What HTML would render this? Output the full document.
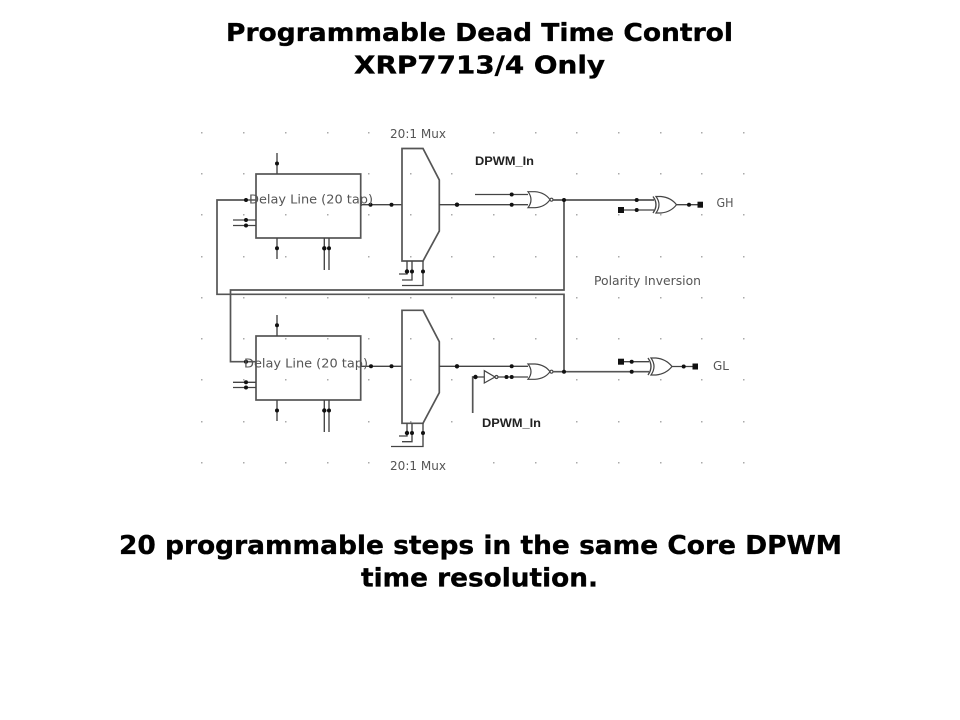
<!DOCTYPE html>
<html>
<head>
<meta charset="utf-8">
<style>
html,body{margin:0;padding:0;background:#fff;width:960px;height:720px;overflow:hidden}
svg{display:block}
.t{font-family:"DejaVu Sans","Liberation Sans",sans-serif;font-weight:700;fill:#000;stroke:#000;stroke-width:.35;font-size:24.5px}
.b{font-family:"DejaVu Sans","Liberation Sans",sans-serif;font-weight:700;fill:#000;stroke:#000;stroke-width:.35;font-size:26px}
.m{font-family:"DejaVu Sans","Liberation Sans",sans-serif;fill:#555;font-size:12.5px}
.d{font-family:"Liberation Sans",Arial,sans-serif;font-weight:700;fill:#222;font-size:12px}
.w{fill:none;stroke:#444;stroke-width:1.35}
.h{fill:none;stroke:#555;stroke-width:1.7}
.g{fill:#fff;stroke:#444;stroke-width:1.2}
</style>
</head>
<body>
<svg width="960" height="720" viewBox="0 0 960 720" xmlns="http://www.w3.org/2000/svg">
<rect width="960" height="720" fill="#fff"/>
<text class="t" x="226" y="41" textLength="507" lengthAdjust="spacingAndGlyphs">Programmable Dead Time Control</text>
<text class="t" x="354" y="73.5" textLength="251" lengthAdjust="spacingAndGlyphs">XRP7713/4 Only</text>
<text class="b" x="119" y="554" textLength="723" lengthAdjust="spacingAndGlyphs">20 programmable steps in the same Core DPWM</text>
<text class="b" x="361" y="586.5" textLength="237" lengthAdjust="spacingAndGlyphs">time resolution.</text>

<!-- grid dots -->
<g fill="#aaa">
<path d="M201 132h1.5v1.5h-1.5zM243 132h1.5v1.5h-1.5zM285 132h1.5v1.5h-1.5zM327 132h1.5v1.5h-1.5zM368 132h1.5v1.5h-1.5zM493 132h1.5v1.5h-1.5zM535 132h1.5v1.5h-1.5zM576 132h1.5v1.5h-1.5zM618 132h1.5v1.5h-1.5zM660 132h1.5v1.5h-1.5zM701 132h1.5v1.5h-1.5zM743 132h1.5v1.5h-1.5z"/>
<path d="M201 173h1.5v1.5h-1.5zM243 173h1.5v1.5h-1.5zM368 173h1.5v1.5h-1.5zM410 173h1.5v1.5h-1.5zM451 173h1.5v1.5h-1.5zM576 173h1.5v1.5h-1.5zM618 173h1.5v1.5h-1.5zM660 173h1.5v1.5h-1.5zM701 173h1.5v1.5h-1.5zM743 173h1.5v1.5h-1.5z"/>
<path d="M201 214h1.5v1.5h-1.5zM243 214h1.5v1.5h-1.5zM285 214h1.5v1.5h-1.5zM327 214h1.5v1.5h-1.5zM368 214h1.5v1.5h-1.5zM410 214h1.5v1.5h-1.5zM451 214h1.5v1.5h-1.5zM493 214h1.5v1.5h-1.5zM535 214h1.5v1.5h-1.5zM576 214h1.5v1.5h-1.5zM618 214h1.5v1.5h-1.5zM660 214h1.5v1.5h-1.5zM701 214h1.5v1.5h-1.5zM743 214h1.5v1.5h-1.5z"/>
<path d="M201 256h1.5v1.5h-1.5zM243 256h1.5v1.5h-1.5zM285 256h1.5v1.5h-1.5zM368 256h1.5v1.5h-1.5zM410 256h1.5v1.5h-1.5zM451 256h1.5v1.5h-1.5zM493 256h1.5v1.5h-1.5zM535 256h1.5v1.5h-1.5zM576 256h1.5v1.5h-1.5zM618 256h1.5v1.5h-1.5zM660 256h1.5v1.5h-1.5zM701 256h1.5v1.5h-1.5zM743 256h1.5v1.5h-1.5z"/>
<path d="M201 297h1.5v1.5h-1.5zM243 297h1.5v1.5h-1.5zM285 297h1.5v1.5h-1.5zM327 297h1.5v1.5h-1.5zM368 297h1.5v1.5h-1.5zM410 297h1.5v1.5h-1.5zM451 297h1.5v1.5h-1.5zM493 297h1.5v1.5h-1.5zM535 297h1.5v1.5h-1.5zM576 297h1.5v1.5h-1.5zM618 297h1.5v1.5h-1.5zM660 297h1.5v1.5h-1.5zM701 297h1.5v1.5h-1.5zM743 297h1.5v1.5h-1.5z"/>
<path d="M201 338h1.5v1.5h-1.5zM243 338h1.5v1.5h-1.5zM285 338h1.5v1.5h-1.5zM327 338h1.5v1.5h-1.5zM368 338h1.5v1.5h-1.5zM410 338h1.5v1.5h-1.5zM451 338h1.5v1.5h-1.5zM493 338h1.5v1.5h-1.5zM535 338h1.5v1.5h-1.5zM576 338h1.5v1.5h-1.5zM618 338h1.5v1.5h-1.5zM660 338h1.5v1.5h-1.5zM701 338h1.5v1.5h-1.5zM743 338h1.5v1.5h-1.5z"/>
<path d="M201 379h1.5v1.5h-1.5zM243 379h1.5v1.5h-1.5zM285 379h1.5v1.5h-1.5zM327 379h1.5v1.5h-1.5zM368 379h1.5v1.5h-1.5zM410 379h1.5v1.5h-1.5zM451 379h1.5v1.5h-1.5zM576 379h1.5v1.5h-1.5zM618 379h1.5v1.5h-1.5zM660 379h1.5v1.5h-1.5zM701 379h1.5v1.5h-1.5zM743 379h1.5v1.5h-1.5z"/>
<path d="M201 421h1.5v1.5h-1.5zM243 421h1.5v1.5h-1.5zM285 421h1.5v1.5h-1.5zM368 421h1.5v1.5h-1.5zM410 421h1.5v1.5h-1.5zM451 421h1.5v1.5h-1.5zM493 421h1.5v1.5h-1.5zM535 421h1.5v1.5h-1.5zM576 421h1.5v1.5h-1.5zM618 421h1.5v1.5h-1.5zM660 421h1.5v1.5h-1.5zM701 421h1.5v1.5h-1.5zM743 421h1.5v1.5h-1.5z"/>
<path d="M201 462h1.5v1.5h-1.5zM243 462h1.5v1.5h-1.5zM285 462h1.5v1.5h-1.5zM327 462h1.5v1.5h-1.5zM368 462h1.5v1.5h-1.5zM493 462h1.5v1.5h-1.5zM535 462h1.5v1.5h-1.5zM576 462h1.5v1.5h-1.5zM618 462h1.5v1.5h-1.5zM660 462h1.5v1.5h-1.5zM701 462h1.5v1.5h-1.5zM743 462h1.5v1.5h-1.5z"/>
</g>

<!-- feedback wires -->
<path class="h" d="M246 200H217V294.3H564V371.7"/>
<path class="h" d="M564 200V290H230.5V361.7H256"/>
<path class="w" d="M246 200H256"/>

<!-- top block -->
<rect class="h" x="256" y="174" width="104.7" height="64" fill="none"/>
<path class="w" d="M277 153V174M233 220H256M233 225.5H256M277 238V259M324.3 238V270M329 238V270M361 204.7H402"/>
<path class="h" d="M402 148.5H423L439.3 180V231L423 261H402Z"/>
<path class="w" d="M407 261V274H399M412 261V280H402M423 261V285.5H402"/>
<path class="w" d="M439.3 204.7H528M475 194.5H528"/>
<path class="g" d="M528 191.7Q534 199.7 528 207.7H535Q545 207 550 199.7Q545 192.5 535 191.7Z"/>
<circle class="g" cx="551.5" cy="199.7" r="1.5"/>
<path class="h" d="M553 200H654"/>
<path class="w" d="M622 210H654M676.5 204.7H700"/>
<path class="g" d="M656 196.5Q662 204.7 656 213H661Q671 212 676.5 204.7Q671 197.5 661 196.5Z"/>
<path class="w" d="M653 196.5Q659 204.7 653 213"/>

<!-- bottom block -->
<rect class="h" x="256" y="336" width="104.7" height="64" fill="none"/>
<path class="w" d="M277 315V336M233 382.3H256M233 387.5H256M277 400V421M324.3 400V432M329 400V432M361 366.3H402"/>
<path class="h" d="M402 310.3H423L439.3 341.7V392.7L423 423.3H402Z"/>
<path class="w" d="M407 423.3V436H399M412 423.3V441.7H402M423 423.3V446.5H391"/>
<path class="w" d="M439.3 366.3H528M498 377H528M475 377H485"/>
<path class="h" d="M472.7 413V377H476"/>
<path class="g" d="M484.3 370.7L495 377L484.3 383Z"/>
<circle class="g" cx="496.5" cy="377" r="1.5"/>
<path class="g" d="M528 364Q534 371.7 528 379.3H535Q545 378.7 550 371.7Q545 364.7 535 364Z"/>
<circle class="g" cx="551.5" cy="371.7" r="1.5"/>
<path class="h" d="M553 371.7H649"/>
<path class="w" d="M622 361.7H649M672 366.5H695"/>
<path class="g" d="M651 358Q657 366.5 651 375H656Q666 374 672 366.5Q666 359 656 358Z"/>
<path class="w" d="M648 358Q654 366.5 648 375"/>

<!-- junction dots -->
<g fill="#111">
<circle cx="277" cy="163.5" r="2"/><circle cx="246" cy="200" r="2"/><circle cx="246" cy="220" r="2"/><circle cx="246" cy="225.5" r="2"/><circle cx="277" cy="248.3" r="2"/><circle cx="324.3" cy="248.3" r="2.2"/><circle cx="329" cy="248.3" r="2"/><circle cx="370.5" cy="204.7" r="2"/><circle cx="391.5" cy="204.7" r="2"/><circle cx="407" cy="271.5" r="2.2"/><circle cx="412" cy="271.5" r="2"/><circle cx="423" cy="271.5" r="2"/><circle cx="457" cy="204.7" r="2.2"/><circle cx="511.7" cy="194.5" r="2"/><circle cx="511.7" cy="204.7" r="2"/><circle cx="564" cy="200" r="2"/><circle cx="636.7" cy="200" r="2"/><circle cx="636.7" cy="210" r="2"/><circle cx="689" cy="204.7" r="2"/>
<rect x="618" y="207" width="6" height="6"/><rect x="697.5" y="201.7" width="5.5" height="6"/>
<circle cx="277" cy="325.3" r="2"/><circle cx="246" cy="361.7" r="2"/><circle cx="246" cy="382.3" r="2"/><circle cx="246" cy="387.5" r="2"/><circle cx="277" cy="410.5" r="2"/><circle cx="324.3" cy="410.5" r="2.2"/><circle cx="329" cy="410.5" r="2"/><circle cx="371" cy="366.3" r="2"/><circle cx="391.5" cy="366.3" r="2"/><circle cx="407" cy="433" r="2.2"/><circle cx="412" cy="433" r="2"/><circle cx="423" cy="433" r="2"/><circle cx="457" cy="366.3" r="2.2"/><circle cx="511.7" cy="366.3" r="2"/><circle cx="506.5" cy="377" r="2"/><circle cx="511.7" cy="377" r="2"/><circle cx="475.5" cy="377" r="2.2"/><circle cx="564" cy="371.7" r="2"/><circle cx="631.7" cy="361.7" r="2"/><circle cx="631.7" cy="371.7" r="2"/><circle cx="683.7" cy="366.5" r="2"/>
<rect x="618" y="358.7" width="6" height="6"/><rect x="692.5" y="363.5" width="5.5" height="6"/>
</g>

<!-- labels -->
<text class="m" x="390" y="138" textLength="56" lengthAdjust="spacingAndGlyphs">20:1 Mux</text>
<text class="m" x="390" y="470" textLength="56" lengthAdjust="spacingAndGlyphs">20:1 Mux</text>
<text class="m" x="249" y="203.5" textLength="124" lengthAdjust="spacingAndGlyphs">Delay Line (20 tap)</text>
<text class="m" x="244" y="367.5" textLength="124" lengthAdjust="spacingAndGlyphs">Delay Line (20 tap)</text>
<text class="m" x="594" y="285" textLength="107" lengthAdjust="spacingAndGlyphs">Polarity Inversion</text>
<text class="m" x="716.5" y="207" textLength="17" lengthAdjust="spacingAndGlyphs">GH</text>
<text class="m" x="713" y="370" textLength="16" lengthAdjust="spacingAndGlyphs">GL</text>
<text class="d" x="475" y="165" textLength="59" lengthAdjust="spacingAndGlyphs">DPWM_In</text>
<text class="d" x="482" y="427" textLength="59" lengthAdjust="spacingAndGlyphs">DPWM_In</text>
</svg>
</body>
</html>
